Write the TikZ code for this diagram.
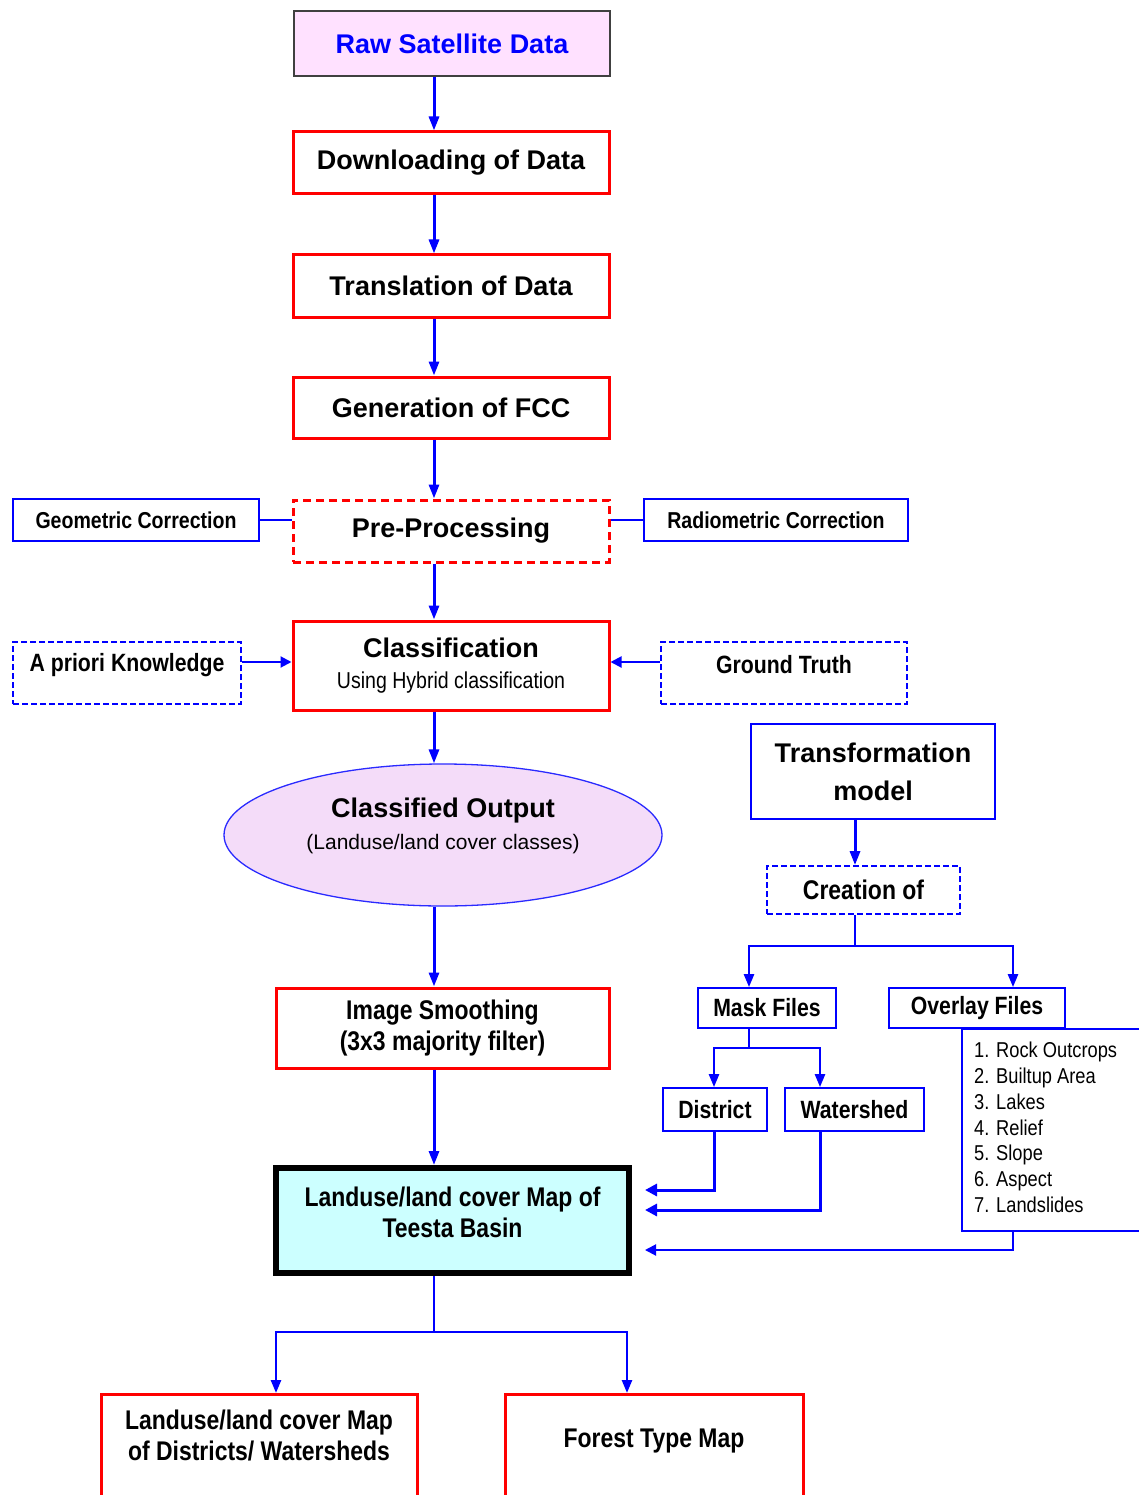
\documentclass[tikz,border=0pt]{standalone}
\usepackage{fontspec}
\setmainfont{Liberation Sans}
\newfontfamily\cond[FakeStretch=0.85]{Liberation Sans}
\usetikzlibrary{shapes.geometric,arrows.meta}
\definecolor{rd}{HTML}{FF0000}
\definecolor{bl}{HTML}{0000FF}
\definecolor{elb}{HTML}{2A2AFF}
\definecolor{pinkfill}{HTML}{FFE1FF}
\definecolor{lav}{HTML}{F4DCF9}
\definecolor{cyanfill}{HTML}{CCFFFF}
\begin{document}
\begin{tikzpicture}[x=1pt,y=-1pt,
  box/.style={rectangle, inner sep=0pt, align=center, text=black},
  redbox/.style={box, draw=rd, line width=3pt},
  blubox/.style={box, draw=bl, line width=1.8pt},
  rdash/.style={dash pattern=on 8pt off 5pt},
  bdash/.style={line width=2.6pt, dash pattern=on 6pt off 3pt},
  big/.style={font=\fontsize{27}{38}\selectfont\bfseries},
  cnd/.style={font=\fontsize{25}{30}\selectfont\cond\bfseries},
  cndl/.style={font=\fontsize{27}{31}\selectfont\cond\bfseries},
  small/.style={font=\fontsize{23}{27}\selectfont\cond\bfseries},
  ar/.style={draw=bl, line width=3pt, -{Triangle[length=14pt,width=10pt]}},
  arm/.style={draw=bl, line width=2.5pt, -{Triangle[length=13pt,width=10pt]}},
  arh/.style={draw=bl, line width=3pt, -{Triangle[length=12pt,width=12pt]}},
  art/.style={draw=bl, line width=2pt, -{Triangle[length=11pt,width=11pt]}},
  ln/.style={draw=bl, line width=2pt},
]
\useasboundingbox (0,0) rectangle (1139,1495);
\clip (0,0) rectangle (1139,1495);
\fill[white] (0,0) rectangle (1139,1495);

% reference x positions of connectors
\coordinate (xa) at (434,0);
\coordinate (xt) at (855,0);
\coordinate (xm) at (749,0);
\coordinate (xo) at (1013,0);
\coordinate (xd) at (714,0);
\coordinate (xw) at (820,0);
\coordinate (xl) at (276,0);
\coordinate (xf) at (627,0);
\coordinate (yk) at (0,662);

% main column
\node[box, draw=black!75, line width=1.5pt, fill=pinkfill, minimum width=316, minimum height=65, big, text=bl] (raw) at (452,43.5) {Raw Satellite Data};
\node[redbox, minimum width=316, minimum height=62, big] (dl) at (451,163) {Downloading of Data};
\node[redbox, minimum width=316, minimum height=62, big] (tr) at (451,286) {Translation of Data};
\node[redbox, minimum width=316, minimum height=61, big] (fcc) at (451,407.5) {Generation of FCC};
\node[redbox, rdash, minimum width=316, minimum height=62, big] (pre) at (451,531) {Pre-Processing};
\node[blubox, minimum width=246, minimum height=42, small] (geo) at (136,520) {Geometric Correction};
\node[blubox, minimum width=264, minimum height=42, small] (rad) at (776,520) {Radiometric Correction};
\node[redbox, minimum width=316, minimum height=89, font=\fontsize{23}{31}\selectfont] (cls) at (451,665.5)
  {{\fontsize{27}{31}\selectfont\bfseries Classification}\\{\cond Using Hybrid classification}};
\node[blubox, bdash, minimum width=228, minimum height=62] (apr) at (127,673) {};
\node[inner sep=0pt, cnd] (aprtxt) at (127,665) {A priori Knowledge};
\node[blubox, bdash, minimum width=246, minimum height=62] (gt) at (784,673) {};
\node[inner sep=0pt, cnd] (gttxt) at (784,665) {Ground Truth};

\node[ellipse, draw=elb, line width=1.3pt, fill=lav, minimum width=438, minimum height=142, inner sep=0pt] (co) at (443,835) {};
\node[align=center, inner sep=0pt, font=\fontsize{21}{32}\selectfont] (cotxt) at (443,826)
  {{\fontsize{27}{32}\selectfont\bfseries Classified Output}\\(Landuse/land cover classes)};

\node[redbox, minimum width=333, minimum height=80, cndl] (ism) at (442.5,1028) {Image Smoothing\\(3x3 majority filter)};
\node[box, draw=black, line width=6pt, fill=cyanfill, minimum width=353, minimum height=105] (lu) at (452.5,1220.5) {};
\node[align=center, inner sep=0pt, cndl] (lutxt) at (452.5,1212.5) {Landuse/land cover Map of\\Teesta Basin};

% right branch
\node[blubox, minimum width=244, minimum height=95, big] (tm) at (873,771.5) {Transformation\\model};
\node[blubox, bdash, line width=1.8pt, minimum width=193, minimum height=48, font=\fontsize{27}{31}\selectfont\cond\bfseries] (cr) at (863.5,890) {Creation of};
\node[blubox, minimum width=138, minimum height=40, cnd] (mask) at (767,1008) {Mask Files};
\node[blubox, minimum width=176, minimum height=40, cnd] (ovl) at (977,1008) {Overlay Files};
\node[blubox, minimum width=104, minimum height=43, cnd] (dist) at (715,1109.5) {District};
\node[blubox, minimum width=139, minimum height=43, cnd] (ws) at (854.5,1109.5) {Watershed};
\node[blubox, anchor=north west, minimum width=230, minimum height=202] (lst) at (961,1028) {};
\node[anchor=north west, align=left, inner sep=0pt, font=\fontsize{21.5}{25.8}\selectfont\cond] (lsttxt) at (974,1042)
  {1. Rock Outcrops\\2. Builtup Area\\3. Lakes\\4. Relief\\5. Slope\\6. Aspect\\7. Landslides};

% bottom outputs
\node[redbox, anchor=north, minimum width=316, minimum height=130] (ldw) at (259,1393) {};
\node[align=center, inner sep=0pt, cndl] (ldwtxt) at (259,1435.5) {Landuse/land cover Map\\of Districts/ Watersheds};
\node[redbox, anchor=north, minimum width=298, minimum height=130] (ft) at (654,1393) {};
\node[inner sep=0pt, cndl] (fttxt) at (654,1441) {Forest Type Map};

% main connectors
\draw[ar] (raw.south -| xa) -- (dl.north -| xa);
\draw[ar] (dl.south -| xa) -- (tr.north -| xa);
\draw[ar] (tr.south -| xa) -- (fcc.north -| xa);
\draw[ar] (fcc.south -| xa) -- (pre.north -| xa);
\draw[ar] (pre.south -| xa) -- (cls.north -| xa);
\draw[ar] (cls.south -| xa) -- (co.north -| xa);
\draw[ar] (co.south -| xa) -- (ism.north -| xa);
\draw[ar] (ism.south -| xa) -- (lu.north -| xa);

\draw[ln, line width=1.5pt] (geo.east) -- (pre.west |- geo.east);
\draw[ln, line width=1.5pt] (rad.west) -- (pre.east |- rad.west);
\draw[art] (apr.east |- yk) -- (cls.west |- yk);
\draw[art] (gt.west |- yk) -- (cls.east |- yk);

% right branch connectors
\coordinate (j1) at (855,946);
\coordinate (j2) at (749,1048);
\coordinate (e1) at (645,1190);
\coordinate (e2) at (645,1210);
\coordinate (e3) at (645,1250);
\draw[ar] (tm.south -| xt) -- (cr.north -| xt);
\draw[ln] (cr.south -| xt) -- (j1);
\draw[arm] (j1) -| (mask.north -| xm);
\draw[arm] (j1) -| (ovl.north -| xo);
\draw[ln] (mask.south -| xm) -- (j2);
\draw[arm] (j2) -| (dist.north -| xd);
\draw[arm] (j2) -| (ws.north -| xw);
\draw[arh] (dist.south -| xd) |- (e1);
\draw[arh] (ws.south -| xw) |- (e2);
\draw[art] (lst.south -| xo) |- (e3);

% bottom connectors
\coordinate (j3) at (434,1332);
\draw[ln, line width=1.5pt] (lu.south -| xa) -- (j3);
\draw[arm] (j3) -| (ldw.north -| xl);
\draw[arm] (j3) -| (ft.north -| xf);
\end{tikzpicture}
\end{document}
